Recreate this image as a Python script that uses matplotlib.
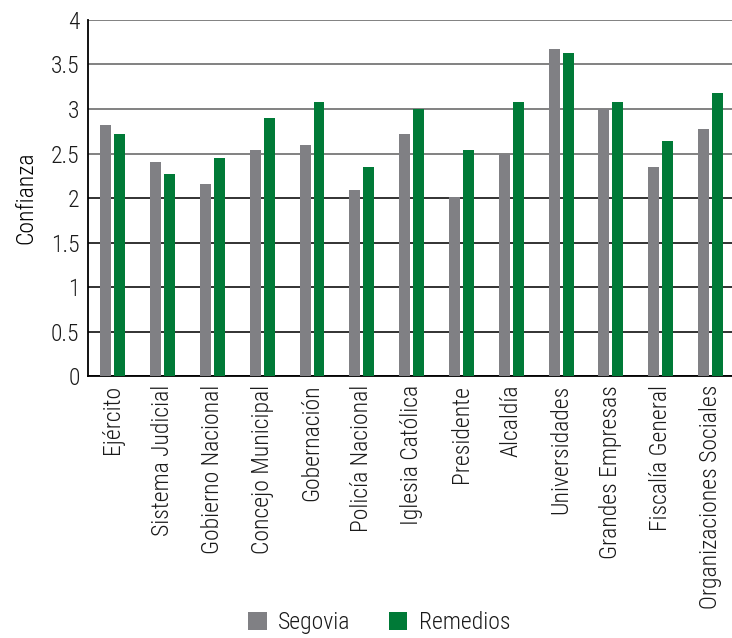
import matplotlib
matplotlib.use("Agg")
import matplotlib.pyplot as plt
import numpy as np

categories = [
    "Ejército", "Sistema Judicial", "Gobierno Nacional", "Concejo Municipal",
    "Gobernación", "Policía Nacional", "Iglesia Católica", "Presidente",
    "Alcaldía", "Universidades", "Grandes Empresas", "Fiscalía General",
    "Organizaciones Sociales",
]
segovia = [2.82, 2.41, 2.16, 2.54, 2.60, 2.09, 2.72, 2.01, 2.49, 3.67, 3.00, 2.35, 2.78]
remedios = [2.72, 2.27, 2.45, 2.90, 3.08, 2.35, 3.00, 2.54, 3.08, 3.63, 3.08, 2.64, 3.18]
yticks = [0, 0.5, 1, 1.5, 2, 2.5, 3, 3.5, 4]
ytick_labels = ["0", "0.5", "1", "1.5", "2", "2.5", "3", "3.5", "4"]

plt.rcParams["font.family"] = ["Roboto Condensed", "DejaVu Sans Condensed",
                               "Liberation Sans Narrow", "DejaVu Sans"]
plt.rcParams["font.stretch"] = "condensed"
plt.rcParams["font.weight"] = "light"
plt.rcParams["axes.labelweight"] = "light"
plt.rcParams["text.color"] = "#1a1a1a"

fig = plt.figure(figsize=(7.32, 6.38), dpi=100)
ax = fig.add_axes([0.12, 0.41, 0.88, 0.559])

x = np.arange(len(categories))
ax.bar(x - 0.14, segovia, width=0.22, color="#808084", label="Segovia", zorder=3)
ax.bar(x + 0.14, remedios, width=0.22, color="#007a37", label="Remedios", zorder=3)

ax.set_xlim(-0.5, 12.43)
ax.set_ylim(0, 4)
ax.set_yticks(yticks)
ax.set_yticklabels(ytick_labels, fontsize=17)
ax.set_xticks(x)
ax.set_xticklabels(categories, rotation=90, fontsize=17)
ax.tick_params(axis="both", length=0, pad=6, labelcolor="#1a1a1a")
ax.set_ylabel("Confianza", fontsize=17, fontweight="light", labelpad=10)

ax.grid(axis="y", linewidth=1.3, zorder=0)
for val, line in zip(yticks, ax.get_ygridlines()):
    line.set_color("#777777" if val > 2 else "#222222")

for side in ["top", "right"]:
    ax.spines[side].set_visible(False)
ax.spines["left"].set_linewidth(1.3)
ax.spines["bottom"].set_linewidth(1.3)

fig.legend(loc="center", bbox_to_anchor=(0.518, 0.024), ncol=2, frameon=False,
           fontsize=17, handlelength=0.8, handleheight=0.8, columnspacing=1.6,
           handletextpad=0.5)

fig.savefig("out.png", dpi=100)
